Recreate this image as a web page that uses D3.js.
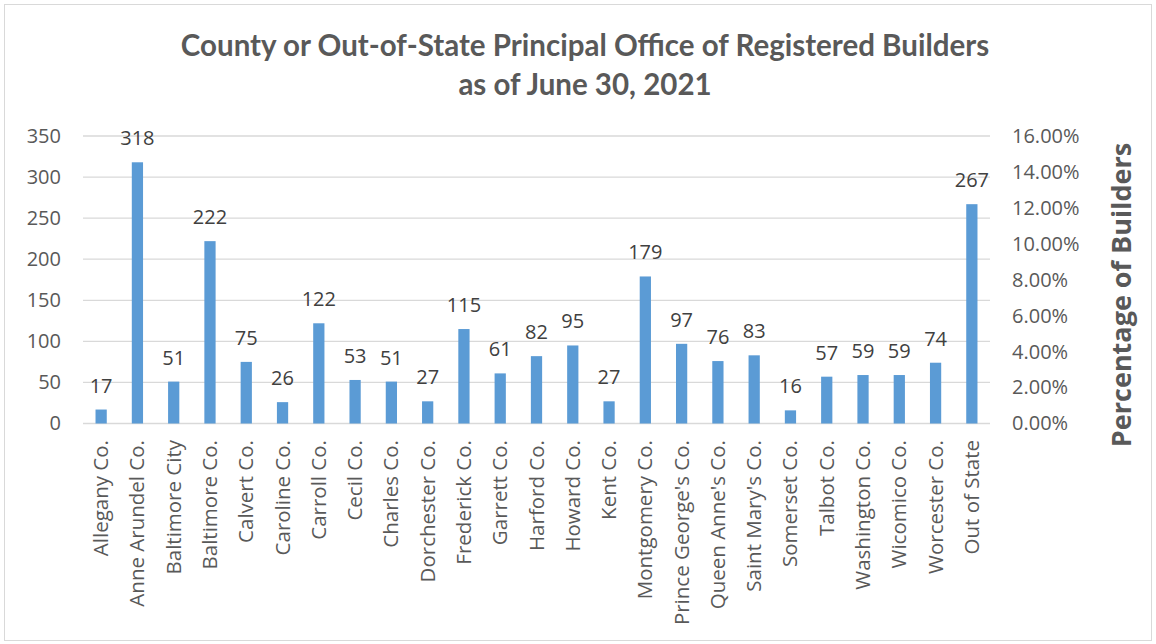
<!DOCTYPE html>
<html>
<head>
<meta charset="utf-8">
<script src="https://cdn.jsdelivr.net/npm/d3@7"></script>
<style>
  body { margin: 0; background: #fff; }
  svg { display: block; }
</style>
</head>
<body>
<div class="chart-container"></div>
<script>
const counties = ["Allegany Co.", "Anne Arundel Co.", "Baltimore City", "Baltimore Co.", "Calvert Co.",
  "Caroline Co.", "Carroll Co.", "Cecil Co.", "Charles Co.", "Dorchester Co.", "Frederick Co.",
  "Garrett Co.", "Harford Co.", "Howard Co.", "Kent Co.", "Montgomery Co.", "Prince George's Co.",
  "Queen Anne's Co.", "Saint Mary's Co.", "Somerset Co.", "Talbot Co.", "Washington Co.",
  "Wicomico Co.", "Worcester Co.", "Out of State"];
const builders = [17, 318, 51, 222, 75, 26, 122, 53, 51, 27, 115, 61, 82, 95, 27, 179, 97, 76, 83, 16, 57, 59, 59, 74, 267];
const countTicks = [0, 50, 100, 150, 200, 250, 300, 350];
const pctTicks = [0, 0.02, 0.04, 0.06, 0.08, 0.10, 0.12, 0.14, 0.16];
const titleLines = ["County or Out-of-State Principal Office of Registered Builders", "as of June 30, 2021"];

const width = 1156, height = 644;
const plotLeft = 83, plotRight = 990, plotTop = 136, plotBottom = 423.5;
const axisFont = "'Open Sans', 'Noto Sans', sans-serif";
const axisSize = 20;

const svg = d3.select(".chart-container")
  .append("svg")
  .attr("width", width)
  .attr("height", height);

// chart border
svg.append("rect")
  .attr("x", 4.5).attr("y", 4.5)
  .attr("width", width - 9).attr("height", height - 8)
  .attr("fill", "none")
  .attr("stroke", "#d9d9d9");

const x = d3.scaleBand()
  .domain(counties)
  .range([plotLeft, plotRight])
  .paddingInner(0.69)
  .paddingOuter(0.345);

const y = d3.scaleLinear().domain([0, 350]).range([plotBottom, plotTop]);
const yPct = d3.scaleLinear().domain([0, 0.16]).range([plotBottom, plotTop]);

// gridlines
svg.append("g")
  .selectAll("line")
  .data(countTicks)
  .enter().append("line")
  .attr("x1", plotLeft).attr("x2", plotRight)
  .attr("y1", d => y(d)).attr("y2", d => y(d))
  .attr("stroke", "#d9d9d9")
  .attr("stroke-width", 1.3);

// left axis
const leftAxis = svg.append("g")
  .attr("transform", `translate(${plotLeft - 22},0)`)
  .call(d3.axisLeft(y).tickValues(countTicks).tickSize(0).tickPadding(0));
leftAxis.select(".domain").remove();
leftAxis.selectAll("text")
  .attr("font-family", axisFont)
  .attr("font-size", axisSize)
  .attr("fill", "#595959");

// right axis
const rightAxis = svg.append("g")
  .attr("transform", `translate(${plotRight + 22},0)`)
  .call(d3.axisRight(yPct).tickValues(pctTicks).tickSize(0).tickPadding(0).tickFormat(d3.format(".2%")));
rightAxis.select(".domain").remove();
rightAxis.selectAll("text")
  .attr("font-family", axisFont)
  .attr("font-size", axisSize)
  .attr("fill", "#595959");

// bars
svg.append("g")
  .selectAll("rect")
  .data(builders)
  .enter().append("rect")
  .attr("x", (d, i) => x(counties[i]))
  .attr("y", d => y(d))
  .attr("width", x.bandwidth())
  .attr("height", d => y(0) - y(d))
  .attr("fill", "#5b9bd5");

// value labels
svg.append("g")
  .selectAll("text")
  .data(builders)
  .enter().append("text")
  .attr("x", (d, i) => x(counties[i]) + x.bandwidth() / 2)
  .attr("y", d => y(d) - 17)
  .attr("text-anchor", "middle")
  .attr("font-family", axisFont)
  .attr("font-size", axisSize)
  .attr("fill", "#404040")
  .text(d => d);

// category labels
svg.append("g")
  .selectAll("text")
  .data(counties)
  .enter().append("text")
  .attr("transform", d => `translate(${x(d) + x.bandwidth() / 2 + 7},440) rotate(-90)`)
  .attr("text-anchor", "end")
  .attr("font-family", axisFont)
  .attr("font-size", 20.5)
  .attr("fill", "#595959")
  .text(d => d);

// title
svg.append("g")
  .selectAll("text")
  .data(titleLines)
  .enter().append("text")
  .attr("x", 585)
  .attr("y", (d, i) => 56 + i * 39)
  .attr("text-anchor", "middle")
  .attr("font-family", "Lato, 'Open Sans', sans-serif")
  .attr("font-weight", "bold")
  .attr("font-size", 29.5)
  .attr("fill", "#595959")
  .text(d => d);

// right axis title
svg.append("text")
  .attr("transform", `translate(1131,295) rotate(-90)`)
  .attr("text-anchor", "middle")
  .attr("font-family", axisFont)
  .attr("font-weight", "bold")
  .attr("font-size", 27)
  .attr("fill", "#595959")
  .text("Percentage of Builders");
</script>
</body>
</html>
